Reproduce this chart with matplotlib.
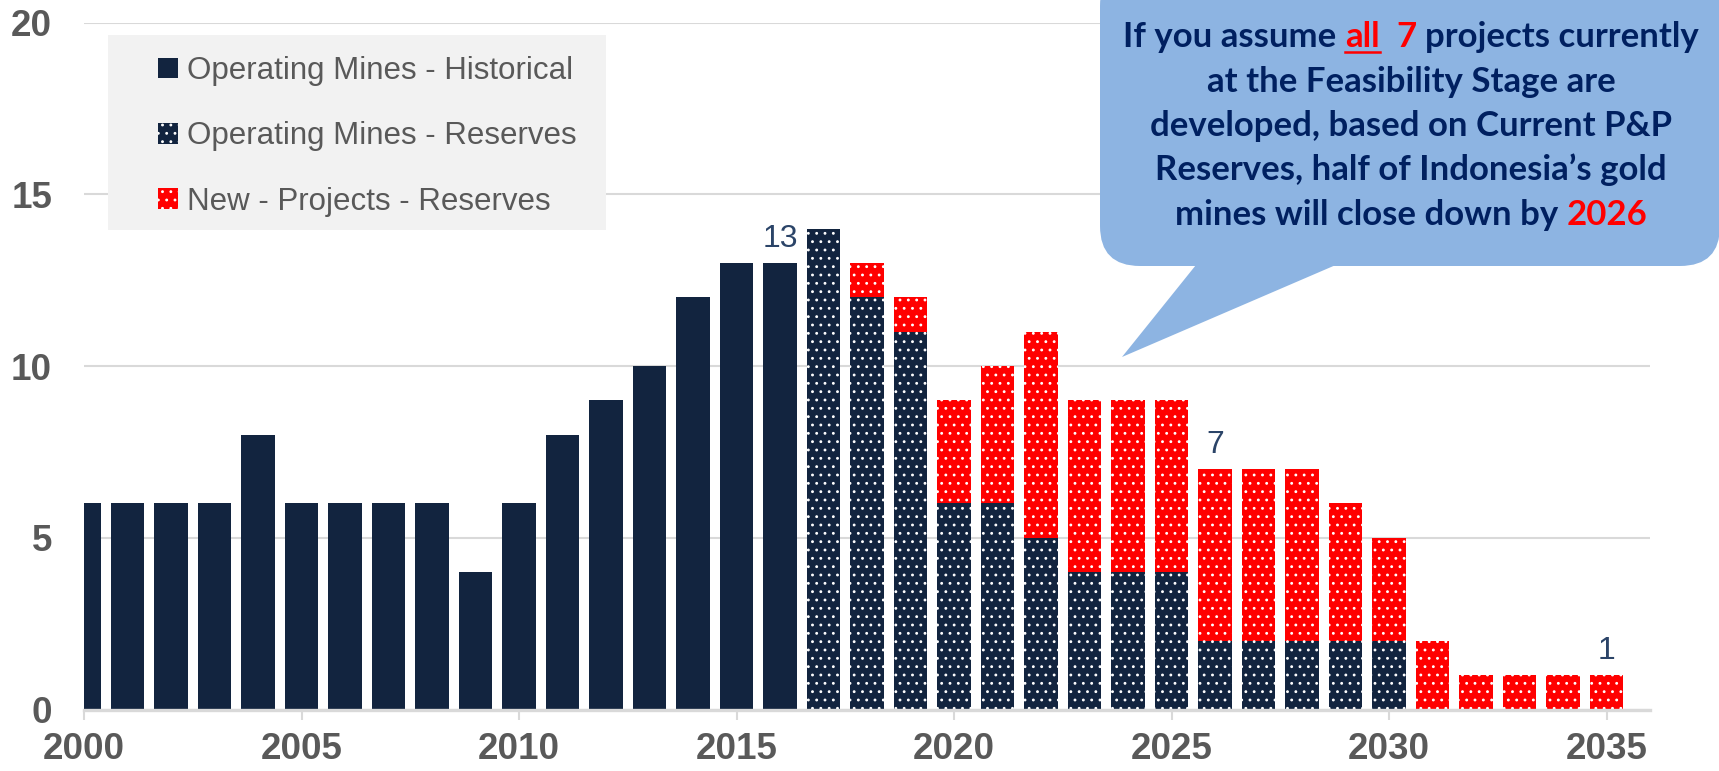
import numpy as np
import matplotlib.pyplot as plt
import matplotlib.transforms as mtransforms
from matplotlib.patches import FancyBboxPatch, Polygon, Rectangle
from matplotlib.lines import Line2D
from matplotlib.font_manager import FontProperties


# number of mines per year
hist_years = [2000, 2001, 2002, 2003, 2004, 2005, 2006, 2007, 2008,
              2009, 2010, 2011, 2012, 2013, 2014, 2015, 2016]
hist_mines = [6, 6, 6, 6, 8, 6, 6, 6, 6, 4, 6, 8, 9, 10, 12, 13, 13]

res_years = [2017, 2018, 2019, 2020, 2021, 2022, 2023,
             2024, 2025, 2026, 2027, 2028, 2029, 2030]
res_mines = [14, 12, 11, 6, 6, 5, 4, 4, 4, 2, 2, 2, 2, 2]

new_years = [2018, 2019, 2020, 2021, 2022, 2023, 2024, 2025, 2026,
             2027, 2028, 2029, 2030, 2031, 2032, 2033, 2034, 2035]
new_mines = [1, 1, 3, 4, 6, 5, 5, 5, 5, 5, 5, 4, 3, 2, 1, 1, 1, 1]

labels = ["Operating Mines - Historical",
          "Operating Mines - Reserves",
          "New - Projects - Reserves"]
label_years = [2016, 2026, 2035]

callout_lines = [
    [("If you assume ", "navy", False), ("all", "red", True), ("  7", "red", False),
     (" projects currently", "navy", False)],
    [("at the Feasibility Stage are", "navy", False)],
    [("developed, based on Current P&P", "navy", False)],
    [("Reserves, half of Indonesia\u2019s gold", "navy", False)],
    [("mines will close down by ", "navy", False), ("2026", "red", False)],
]

NAVY = "#12243f"
RED = "#ff0000"
GRID = "#d9d9d9"
AXIS_TXT = "#595959"
VALUE_TXT = "#2b4468"
BUBBLE = "#8db4e2"
BUBBLE_TXT = {"navy": "#002060", "red": "#ff0000"}

W, H = 1719, 771
NARROW = ["Liberation Sans Narrow", "Liberation Sans", "DejaVu Sans"]

plt.rcParams["font.family"] = ["Liberation Sans", "DejaVu Sans"]
plt.rcParams["hatch.color"] = "white"
plt.rcParams["hatch.linewidth"] = 0.85


def main():
    fig = plt.figure(figsize=(W / 100, H / 100), dpi=100)
    ax = fig.add_axes([84 / W, 61.5 / H, 1566 / W, 686.8 / H])

    bw = 0.775
    ax.bar(hist_years, hist_mines, width=bw, color=NAVY, linewidth=0, label=labels[0])
    ax.bar(res_years, res_mines, width=bw, color=NAVY, linewidth=0, hatch="..",
           label=labels[1])
    base = dict(zip(res_years, res_mines))
    new_bottom = [base.get(y, 0) for y in new_years]
    ax.bar(new_years, new_mines, bottom=new_bottom, width=bw, color=RED, linewidth=0,
           hatch="..", label=labels[2])

    # value labels above a few of the bars
    totals = {}
    for ys, vs in ((hist_years, hist_mines), (res_years, res_mines), (new_years, new_mines)):
        for y, v in zip(ys, vs):
            totals[y] = totals.get(y, 0) + v
    for y in label_years:
        ax.annotate(str(totals[y]), (y, totals[y]), xytext=(0, 11.5),
                    textcoords="offset points", ha="center", va="baseline",
                    fontsize=23, family=NARROW, color=VALUE_TXT)

    ax.set_xlim(2000, 2036)
    ax.set_ylim(0, 20)
    ax.set_xticks(np.arange(2000, 2036, 5))
    ax.set_yticks([0, 5, 10, 15, 20])
    ax.set_axisbelow(True)
    ax.yaxis.grid(True, color=GRID, linewidth=1.5)
    for s in ("left", "right", "top"):
        ax.spines[s].set_visible(False)
    ax.spines["bottom"].set_color(GRID)
    ax.spines["bottom"].set_linewidth(2.4)
    ax.tick_params(axis="x", length=7, width=1.5, color=GRID, pad=9,
                   labelsize=26.5, labelcolor=AXIS_TXT)
    ax.tick_params(axis="y", length=0, pad=23, labelsize=26.5, labelcolor=AXIS_TXT)
    plt.setp(ax.get_xticklabels() + ax.get_yticklabels(), fontweight="bold")

    # legend on a grey panel
    px = mtransforms.IdentityTransform()
    ax.add_patch(Rectangle((108, H - 230), 498, 195, transform=px, facecolor="#f2f2f2",
                           edgecolor="none", zorder=4, clip_on=False))
    ax.legend(loc="upper left", bbox_to_anchor=(158 / W, 1 - 56 / H),
              bbox_transform=fig.transFigure, frameon=False,
              prop=FontProperties(family=NARROW, size=22.5), labelcolor=AXIS_TXT,
              handlelength=0.64, handleheight=0.64, handletextpad=0.3,
              labelspacing=1.13, borderpad=0, borderaxespad=0)

    # speech bubble
    fig.add_artist(FancyBboxPatch((1100, H - 266), 620, 300,
                                  boxstyle="round,pad=0,rounding_size=40",
                                  transform=px, facecolor=BUBBLE, edgecolor="none",
                                  zorder=10))
    fig.add_artist(Polygon([(1204, H - 255), (1359, H - 255), (1122, H - 357)],
                           closed=True, transform=px, facecolor=BUBBLE,
                           edgecolor="none", zorder=10))

    renderer = fig.canvas.get_renderer()
    fp = FontProperties(family=["Lato", "DejaVu Sans"], weight="bold", size=25)

    def advance(s):
        w1 = renderer.get_text_width_height_descent("|" + s + "|", fp, ismath=False)[0]
        w0 = renderer.get_text_width_height_descent("||", fp, ismath=False)[0]
        return w1 - w0

    space = advance(" ")
    cx = 1411
    baselines = [47, 91.5, 136, 180.5, 225]
    for pieces, yb in zip(callout_lines, baselines):
        total = sum(advance(t) for t, _, _ in pieces)
        x = cx - total / 2
        for t, c, under in pieces:
            lead = len(t) - len(t.lstrip())
            fig.text(x + lead * space, H - yb, t.strip(), transform=px, ha="left",
                     va="baseline", fontproperties=fp, color=BUBBLE_TXT[c], zorder=11)
            if under:
                fig.add_artist(Line2D([x, x + advance(t)], [H - yb - 5, H - yb - 5],
                                      transform=px, color=BUBBLE_TXT[c],
                                      linewidth=1.8, zorder=11))
            x += advance(t)

    fig.savefig("out.png", dpi=100)


if __name__ == '__main__':
    main()
